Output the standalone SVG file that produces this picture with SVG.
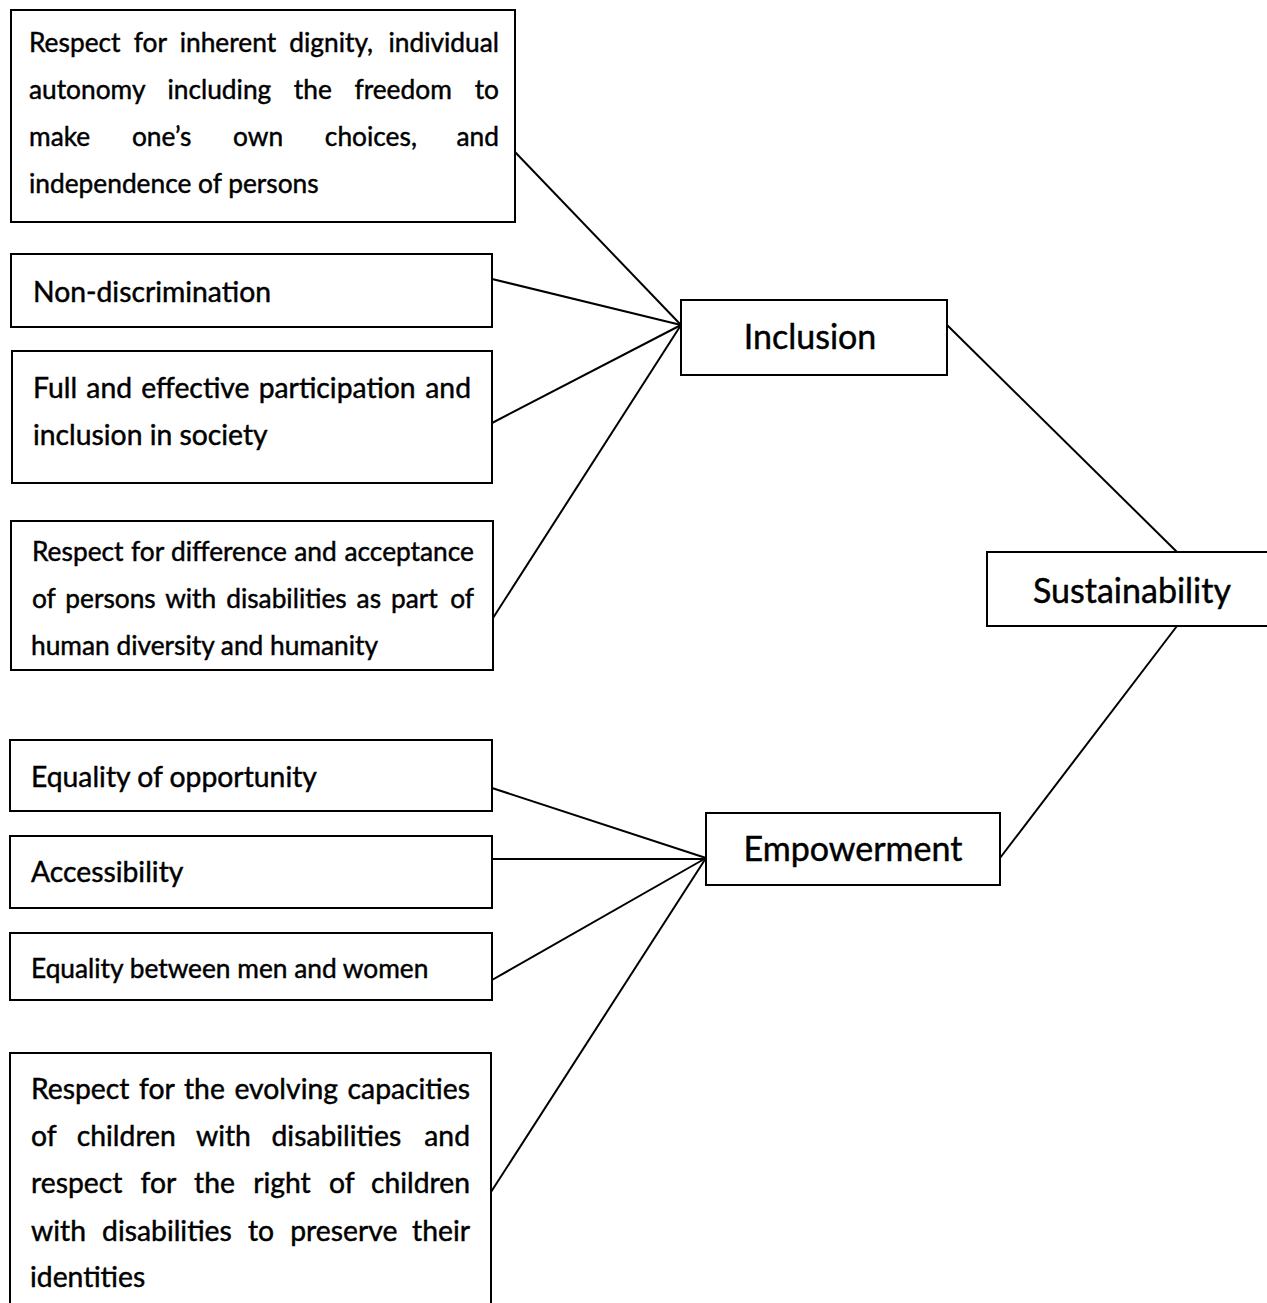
<svg xmlns="http://www.w3.org/2000/svg" width="1267" height="1303" viewBox="0 0 1267 1303">
<style>
rect{fill:#fff;stroke:#000;stroke-width:2}
line{stroke:#000;stroke-width:2}
text{font-family:Lato,"Open Sans","Liberation Sans",sans-serif;fill:#000;stroke:#000;stroke-width:0.45;font-size:28.3px}
.m{font-size:26.3px}
.b{font-size:34px}
.e{text-anchor:end}
</style>
<rect width="1267" height="1303" style="stroke:none"/>
<g id="connectors">
<line x1="515" y1="152" x2="681" y2="325"/>
<line x1="492" y1="279" x2="681" y2="325"/>
<line x1="492" y1="423" x2="681" y2="325"/>
<line x1="493" y1="618" x2="681" y2="325"/>
<line x1="947" y1="325" x2="1177" y2="552"/>
<line x1="1177" y1="626" x2="1000" y2="858"/>
<line x1="492" y1="788" x2="706" y2="858"/>
<line x1="492" y1="859" x2="706" y2="859"/>
<line x1="492" y1="980" x2="706" y2="858"/>
<line x1="491" y1="1192" x2="706" y2="858"/>
</g>
<g id="n1"><rect x="11" y="10" width="504" height="212"/>
<text class="m" x="29" y="52" word-spacing="6.5">Respect for inherent dignity,</text>
<text class="m e" x="499" y="52">individual</text>
<text class="m" x="29" y="99" word-spacing="15.9">autonomy including the freedom</text>
<text class="m e" x="499" y="99">to</text>
<text class="m" x="29" y="146" word-spacing="35">make one’s own choices,</text>
<text class="m e" x="499" y="146">and</text>
<text class="m" x="29" y="193">independence of persons</text></g>
<g id="n2"><rect x="11" y="254" width="481" height="73"/>
<text x="33" y="302">Non-discrimination</text></g>
<g id="n3"><rect x="12" y="351" width="480" height="132"/>
<text x="33" y="398" word-spacing="2">Full and effective participation</text>
<text class="e" x="471" y="398">and</text>
<text x="33" y="445">inclusion in society</text></g>
<g id="n4"><rect x="11" y="521" width="482" height="149"/>
<text class="m" x="32" y="561" word-spacing="0.7">Respect for difference and</text>
<text class="m e" x="474" y="561">acceptance</text>
<text class="m" x="32" y="608" word-spacing="3.2">of persons with disabilities as part</text>
<text class="m e" x="474" y="608">of</text>
<text class="m" x="31" y="655">human diversity and humanity</text></g>
<g id="inclusion"><rect x="681" y="300" width="266" height="75"/>
<text class="b" x="810" y="349" text-anchor="middle">Inclusion</text></g>
<g id="sustainability"><rect x="987" y="552" width="285" height="74"/>
<text class="b" x="1132" y="603" text-anchor="middle">Sustainability</text></g>
<g id="empowerment"><rect x="706" y="813" width="294" height="72"/>
<text class="b" x="853" y="861" text-anchor="middle">Empowerment</text></g>
<g id="n5"><rect x="10" y="740" width="482" height="71"/>
<text x="31" y="787">Equality of opportunity</text></g>
<g id="n6"><rect x="10" y="836" width="482" height="72"/>
<text x="31" y="882">Accessibility</text></g>
<g id="n7"><rect x="10" y="933" width="482" height="67"/>
<text class="m" x="31" y="978">Equality between men and women</text></g>
<g id="n8"><rect x="10" y="1053" width="481" height="260"/>
<text x="31" y="1099" word-spacing="2.4">Respect for the evolving</text>
<text class="e" x="470" y="1099">capacities</text>
<text x="31" y="1146" word-spacing="13.4">of children with disabilities</text>
<text class="e" x="470" y="1146">and</text>
<text x="31" y="1193" word-spacing="11">respect for the right of</text>
<text class="e" x="470" y="1193">children</text>
<text x="31" y="1241" word-spacing="8.9">with disabilities to preserve</text>
<text class="e" x="470" y="1241">their</text>
<text x="30" y="1287">identities</text></g>
</svg>
